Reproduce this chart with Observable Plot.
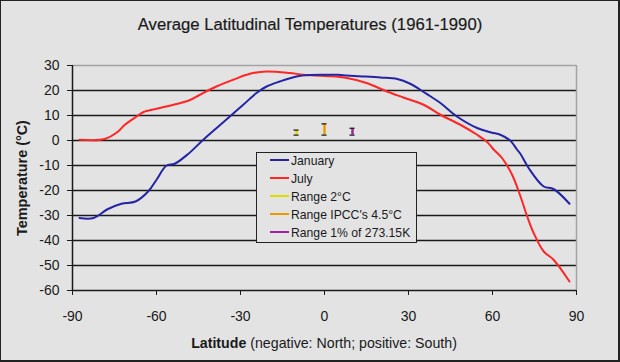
<!DOCTYPE html>
<html><head><meta charset="utf-8">
<script src="https://cdn.jsdelivr.net/npm/d3@7"></script>
<script src="https://cdn.jsdelivr.net/npm/@observablehq/plot@0.6"></script>
<style>
body{margin:0;background:#fff;}
#wrap{position:relative;width:620px;height:362px;background:#e3e3e3;overflow:hidden;font-family:"Liberation Sans",Arial,sans-serif;color:#1a1a1a;}
#frame{position:absolute;left:0;top:0;width:620px;height:362px;box-sizing:border-box;border:1px solid #222;border-right-width:2px;border-bottom-width:2px;pointer-events:none}
#chart{position:absolute;left:0;top:0}
.title{position:absolute;left:0;width:620px;top:15px;text-align:center;font-size:16.7px;white-space:nowrap;-webkit-text-stroke:0.2px #1a1a1a}
.xlab{position:absolute;left:324px;top:343px;transform:translate(-50%,-50%);font-size:14.2px;white-space:nowrap}
.ylab{position:absolute;left:22px;top:178px;transform:translate(-50%,-50%) rotate(-90deg);font-size:14.4px;font-weight:bold;white-space:nowrap}
.legend{position:absolute;left:256px;top:152px;width:159px;height:89px;border:1.5px solid #222;background:#e3e3e3}
.li{position:absolute;left:13px;font-size:12.2px;white-space:nowrap;line-height:14px}
.sw{display:inline-block;width:19px;height:2px;vertical-align:middle;margin-right:2px;position:relative;top:-1px}
</style></head>
<body>
<div id="wrap">
  <div id="chart"></div>
  <div class="title">Average Latitudinal Temperatures (1961-1990)</div>
  <div class="ylab">Temperature (°C)</div>
  <div class="xlab"><b>Latitude</b> (negative: North; positive: South)</div>
  <div class="legend" id="legend"></div>
  <div id="frame"></div>
</div>
<script>
// January series
const janLat = [-87.5,-82.5,-77.5,-72.5,-67.5,-63,-60,-56.5,-53.5,-48.7,-43.3,-38.5,-33.8,-29,-24.3,-20.7,-16,-10,-5,0,5,8,12.5,20,26,30.6,34.2,37.5,41.4,47.3,54.5,59.6,62.8,66.4,68.8,70,72.9,78.3,81.8,87.5];
const janTemp = [-31,-31,-27.5,-25.3,-24.4,-20.4,-15.7,-10.1,-9.3,-5.4,0.3,5,9.6,14.3,19,21.6,23.6,25.6,26.2,26.3,26.3,26,25.7,25.2,24.6,22.7,20.3,17.9,15,9.6,5,3.2,2.3,-0.1,-3.7,-5.4,-11,-18.4,-19.4,-25.3];
// July series
const julLat = [-87.5,-78.5,-73.7,-71.3,-67.1,-64.8,-60,-52.9,-48,-44.5,-38.6,-32.6,-26.6,-20.7,-12.4,-7.6,0,8,15,22.3,28.2,35.4,41.4,48.5,54.5,58.1,60.5,63.4,67,70,72.4,74.7,78.3,81.8,87.5];
const julTemp = [0.3,0.6,3.6,6.3,9.6,11.3,12.7,14.6,16.2,18.3,21.6,24.3,26.7,27.6,27,26.3,25.8,25,23,19.6,17.2,14.3,10.3,6.3,2.3,-0.6,-3.7,-7,-13.7,-22.4,-30.4,-37,-44.4,-47.7,-56.4];
// Range bars
const rangeNames = ["Range 2°C", "Range IPCC's 4.5°C", "Range 1% of 273.15K"];
const rangeLat = [-10, 0, 10];
const rangeLow = [2.15, 2.15, 2.15];
const rangeSize = [2, 4.5, 2.73];
// Ticks
const xTicks = [-90, -60, -30, 0, 30, 60, 90];
const yTicks = [30, 20, 10, 0, -10, -20, -30, -40, -50, -60];
const gridTemps = [20, 10, 0, -10, -20, -30, -40, -50];
// Series names & colors
const seriesNames = ["January", "July"];
const seriesColors = ["#2424a4", "#ff2626"];
const rangeColors = ["#dcdc00", "#e89c00", "#a020a0"];

const jan = janLat.map((x, i) => ({x, y: janTemp[i]}));
const jul = julLat.map((x, i) => ({x, y: julTemp[i]}));
const ranges = rangeLat.map((x, i) => ({x, lo: rangeLow[i], hi: rangeLow[i] + rangeSize[i], c: rangeColors[i]}));

const chart = Plot.plot({
  width: 620, height: 362,
  marginLeft: 72, marginRight: 44, marginTop: 65, marginBottom: 72,
  x: {domain: [-90, 90], label: null},
  y: {domain: [-60, 30], label: null},
  style: {background: "transparent", fontFamily: "'Liberation Sans', Arial, sans-serif", fontSize: "14px", color: "#1a1a1a"},
  marks: [
    Plot.ruleY(gridTemps, {stroke: "#1a1a1a", strokeWidth: 1.5}),
    Plot.ruleY([30], {stroke: "#a3a3a3", strokeWidth: 1.5}),
    Plot.ruleX([90], {stroke: "#a3a3a3", strokeWidth: 1.5}),
    Plot.axisY({ticks: yTicks, label: null, tickSize: 5, tickPadding: 8, stroke: "#1a1a1a", fontSize: 14}),
    Plot.axisX({ticks: xTicks, label: null, tickSize: 5, tickPadding: 15.5, stroke: "#1a1a1a", fontSize: 14}),
    Plot.ruleX([-90], {y1: -60, y2: 30, stroke: "#1a1a1a", strokeWidth: 1.5}),
    Plot.ruleY([-60], {stroke: "#1a1a1a", strokeWidth: 1.5}),
    Plot.ruleX(ranges, {x: "x", y1: "lo", y2: "hi", stroke: "c", strokeWidth: 2.5}),
    Plot.ruleY(ranges, {y: "lo", x1: d => d.x - 0.9, x2: d => d.x + 0.9, stroke: "#222", strokeWidth: 1.3}),
    Plot.ruleY(ranges, {y: "hi", x1: d => d.x - 0.9, x2: d => d.x + 0.9, stroke: "#222", strokeWidth: 1.3}),
    Plot.line(jul, {x: "x", y: "y", stroke: seriesColors[1], strokeWidth: 2, curve: "catmull-rom"}),
    Plot.line(jan, {x: "x", y: "y", stroke: seriesColors[0], strokeWidth: 2, curve: "catmull-rom"})
  ]
});
// use ASCII hyphen-minus like the reference
d3.select(chart).selectAll("text").each(function(){ const t = this.textContent; if (t.includes("−")) this.textContent = t.replace("−", "-"); });
document.getElementById("chart").appendChild(chart);

const legendItems = seriesNames.map((n, i) => ({n, c: seriesColors[i]})).concat(rangeNames.map((n, i) => ({n, c: rangeColors[i]})));
const lg = document.getElementById("legend");
legendItems.forEach((d, i) => {
  const el = document.createElement("div");
  el.className = "li";
  el.style.top = (0.5 + i * 18) + "px";
  el.innerHTML = `<span class="sw" style="background:${d.c}"></span>${d.n}`;
  lg.appendChild(el);
});
</script>
</body></html>
